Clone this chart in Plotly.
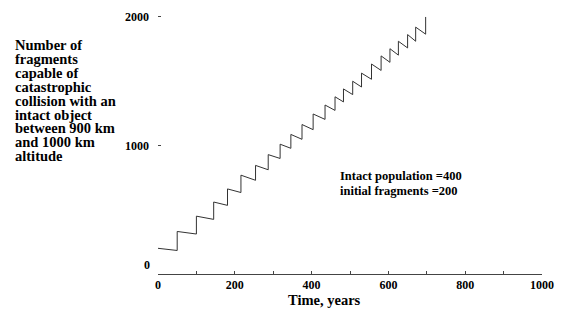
import plotly.graph_objects as go

# Data
start_time = 0
start_value = 200
jump_times = [50, 100, 145, 181, 216, 254, 287, 318, 346, 375, 404, 435, 461,
              483, 507, 530, 556, 581, 604, 626, 650, 671, 697]
values_before_jump = [183, 311, 425, 534, 634, 729, 811, 899, 978, 1048, 1123,
                      1203, 1273, 1339, 1396, 1455, 1515, 1584, 1647, 1703,
                      1759, 1811, 1866]
values_after_jump = [331, 450, 560, 662, 769, 845, 929, 1010, 1086, 1163, 1245,
                     1315, 1379, 1440, 1500, 1563, 1634, 1697, 1753, 1811,
                     1863, 1921, 2000]

x_ticks = [0, 200, 400, 600, 800, 1000]
y_ticks = [1000, 2000]

y_title_lines = ["Number of", "fragments", "capable of", "catastrophic",
                 "collision with an", "intact object", "between 900 km",
                 "and 1000 km", "altitude"]
note_lines = ["Intact population =400", "initial fragments =200"]

# Build sawtooth path from the data
xs = [start_time]
ys = [start_value]
for t, lo, hi in zip(jump_times, values_before_jump, values_after_jump):
    xs += [t, t]
    ys += [lo, hi]

W, H = 567, 309
ML, MR, MT, MB = 158, 25, 10, 35
PW = W - ML - MR
PH = H - MT - MB
FONT = "Liberation Serif, Times New Roman, serif"


def px_to_paper_x(px):
    return (px - ML) / PW


def px_to_paper_y(py):
    return (H - MB - py) / PH


fig = go.Figure()
fig.add_trace(go.Scatter(x=xs, y=ys, mode="lines",
                         line=dict(color="#333333", width=1),
                         hoverinfo="skip", showlegend=False))

annotations = []
for i, line in enumerate(y_title_lines):
    annotations.append(dict(
        text=line, xref="paper", yref="paper",
        x=px_to_paper_x(14), y=px_to_paper_y(41 + i * 14.1),
        xanchor="left", yanchor="middle", showarrow=False, borderpad=0,
        font=dict(family=FONT, size=14.5, color="black", weight="bold")))
for i, line in enumerate(note_lines):
    annotations.append(dict(
        text=line, xref="paper", yref="paper",
        x=px_to_paper_x(339), y=px_to_paper_y(174 + i * 15),
        xanchor="left", yanchor="middle", showarrow=False, borderpad=0,
        font=dict(family=FONT, size=12.5, color="black", weight="bold")))
annotations.append(dict(
    text="Time, years", xref="paper", yref="paper",
    x=px_to_paper_x(324), y=px_to_paper_y(300),
    xanchor="center", yanchor="middle", showarrow=False,
    font=dict(family=FONT, size=14.5, color="black", weight="bold")))
annotations.append(dict(
    text="0", xref="paper", yref="y",
    x=px_to_paper_x(152), y=0, yshift=9,
    xanchor="right", yanchor="middle", showarrow=False,
    font=dict(family=FONT, size=12, color="black", weight="bold")))

fig.update_layout(
    width=W, height=H,
    margin=dict(l=ML, r=MR, t=MT, b=MB),
    paper_bgcolor="white", plot_bgcolor="white",
    annotations=annotations,
    font=dict(family=FONT, color="black"),
    xaxis=dict(range=[0, 1000], tickvals=x_ticks, ticks="inside", ticklen=3,
               tickcolor="#444", showline=True, linecolor="#444", linewidth=1,
               showgrid=False, zeroline=False,
               minor=dict(dtick=100, ticks="inside", ticklen=3, tickcolor="#444"),
               tickfont=dict(family=FONT, size=12, color="black", weight="bold")),
    yaxis=dict(range=[0, 2000 * PH / 262], tickvals=y_ticks, ticks="inside",
               ticklen=3, tickcolor="#444", showline=False, showgrid=False,
               zeroline=False, ticklabelstandoff=8,
               tickfont=dict(family=FONT, size=12, color="black", weight="bold")),
)

fig.write_html("out.html", config={"displayModeBar": False},
               post_script="document.body.style.margin='0';"
                           "document.body.style.padding='0';")
